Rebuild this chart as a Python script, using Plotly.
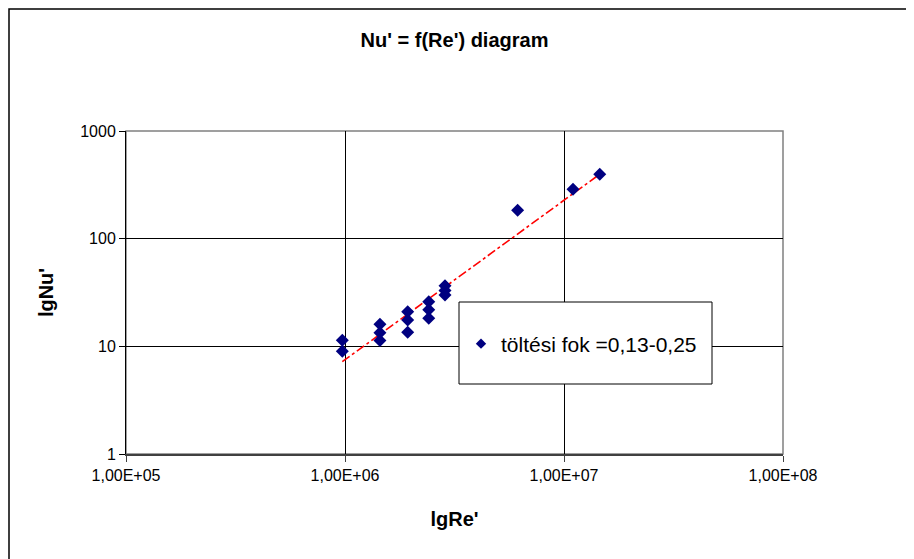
import numpy as np
import plotly.graph_objects as go

# Data
re_vals = [9.72e5, 9.72e5,
           1.444e6, 1.444e6, 1.444e6,
           1.933e6, 1.933e6, 1.933e6,
           2.412e6, 2.412e6, 2.412e6,
           2.862e6, 2.862e6, 2.862e6,
           6.14e6, 1.099e7, 1.456e7]
nu_vals = [11.4, 9.0,
           16.0, 13.4, 11.3,
           21.0, 17.6, 13.5,
           26.0, 21.9, 18.2,
           36.6, 33.0, 30.0,
           183.5, 287.6, 396.0]

series_name = "töltési fok =0,13-0,25"
x_tickvals = [1e5, 1e6, 1e7, 1e8]
x_ticktext = ["1,00E+05", "1,00E+06", "1,00E+07", "1,00E+08"]
y_tickvals = [1, 10, 100, 1000]
y_ticktext = ["1", "10", "100", "1000"]

# Power-law trendline (least squares in log-log space), like Excel's power trendline
lx = np.log10(re_vals)
ly = np.log10(nu_vals)
b, a = np.polyfit(lx, ly, 1)
tx = np.logspace(lx.min(), lx.max(), 60)
ty = 10 ** (a + b * np.log10(tx))

FONT = "Liberation Sans, Arial, sans-serif"

fig = go.Figure()
fig.add_trace(go.Scatter(
    x=tx, y=ty, mode="lines",
    line=dict(color="#ff0000", width=1.6, dash="dashdot"),
    showlegend=False, hoverinfo="skip"))
fig.add_trace(go.Scatter(
    x=re_vals, y=nu_vals, mode="markers", name=series_name,
    marker=dict(symbol="diamond", size=10, color="#000080", line=dict(width=0)),
    showlegend=False))
# legend-only entry with a smaller symbol
fig.add_trace(go.Scatter(
    x=[None], y=[None], mode="markers", name=series_name,
    marker=dict(symbol="diamond", size=8, color="#000080", line=dict(width=0)),
    showlegend=True))

OFF = 8  # page body margin
W, H = 914 - OFF, 559 - OFF
# plot area in page pixels
PL, PR, PT, PB = 126, 783, 131, 454
L, T = PL - OFF, PT - OFF
R, B = W - (PR - OFF), H - (PB - OFF)
PW, PH = PR - PL, PB - PT

def px2paper_x(p):
    return (p - PL) / PW

def px2paper_y(p):
    return (PB - p) / PH

shapes = [
    # outer chart border
    dict(type="rect", xref="paper", yref="paper",
         x0=px2paper_x(9), x1=px2paper_x(912), y0=px2paper_y(575), y1=px2paper_y(9),
         line=dict(color="black", width=1.5), fillcolor="rgba(0,0,0,0)", layer="below"),
    # plot area border (grey)
    dict(type="rect", xref="paper", yref="paper", x0=0, x1=1, y0=0, y1=1,
         line=dict(color="#808080", width=1.5), fillcolor="rgba(0,0,0,0)", layer="below"),
    # legend box
    dict(type="rect", xref="paper", yref="paper",
         x0=px2paper_x(459), x1=px2paper_x(712), y0=px2paper_y(384), y1=px2paper_y(302),
         line=dict(color="black", width=1), fillcolor="white", layer="above"),
]

fig.update_layout(
    width=W, height=H,
    margin=dict(l=L, r=R, t=T, b=B),
    paper_bgcolor="white", plot_bgcolor="white",
    font=dict(family=FONT, color="black", size=16),
    title=dict(text="<b>Nu' = f(Re') diagram</b>", x=0.5, xref="paper",
               y=1 - (40 - OFF) / H, yanchor="middle",
               font=dict(size=20, family=FONT, color="black")),
    xaxis=dict(type="log", range=[5, 8], tickvals=x_tickvals, ticktext=x_ticktext,
               showgrid=True, gridcolor="black", gridwidth=1,
               showline=True, linecolor="#404040", linewidth=2,
               ticks="outside", ticklen=6, tickcolor="#404040",
               zeroline=False,
               tickfont=dict(size=16, family=FONT),
               title=dict(text="<b>lgRe'</b>", font=dict(size=20, family=FONT),
                          standoff=29)),
    yaxis=dict(type="log", range=[0, 3], tickvals=y_tickvals, ticktext=y_ticktext,
               showgrid=True, gridcolor="black", gridwidth=1,
               showline=True, linecolor="black", linewidth=1,
               ticks="outside", ticklen=6, tickcolor="black",
               zeroline=False,
               tickfont=dict(size=16, family=FONT),
               title=dict(text="<b>lgNu'</b>", font=dict(size=20, family=FONT),
                          standoff=21)),
    legend=dict(x=px2paper_x(461), y=px2paper_y(344), xanchor="left", yanchor="middle",
                bgcolor="rgba(0,0,0,0)", borderwidth=0,
                font=dict(size=21, family=FONT, color="black")),
    shapes=shapes,
)

fig.write_html("out.html")
